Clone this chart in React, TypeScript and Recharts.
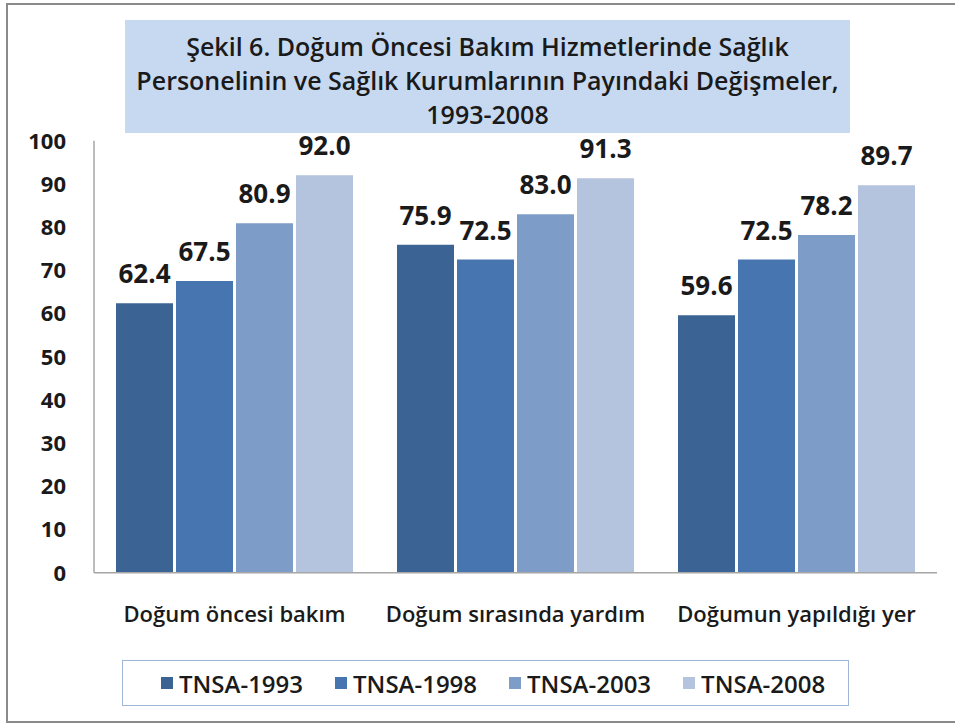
import { BarChart, Bar, XAxis, YAxis, LabelList } from 'recharts';

const categories = ['Doğum öncesi bakım', 'Doğum sırasında yardım', 'Doğumun yapıldığı yer'];
const tnsa1993 = [62.4, 75.9, 59.6];
const tnsa1998 = [67.5, 72.5, 72.5];
const tnsa2003 = [80.9, 83.0, 78.2];
const tnsa2008 = [92.0, 91.3, 89.7];
const seriesNames = ['TNSA-1993', 'TNSA-1998', 'TNSA-2003', 'TNSA-2008'];
const yTicks = [0, 10, 20, 30, 40, 50, 60, 70, 80, 90, 100];
const titleLines = [
  'Şekil 6. Doğum Öncesi Bakım Hizmetlerinde Sağlık',
  'Personelinin ve Sağlık Kurumlarının Payındaki Değişmeler,',
  '1993-2008',
];

const COLORS = ['#3B6494', '#4675AF', '#7E9CC8', '#B4C3DE'];
const FONT = '"Open Sans", sans-serif';
const TEXT = '#1a1a1a';

const data = categories.map((name, i) => ({
  name,
  s0: tnsa1993[i],
  s1: tnsa1998[i],
  s2: tnsa2003[i],
  s3: tnsa2008[i],
}));

export default function App() {
  return (
    <div style={{ position: 'relative', width: 955, height: 724, overflow: 'hidden', background: '#fff', fontFamily: FONT }}>
      <style>{'body{margin:0}'}</style>
      {/* outer frame */}
      <div
        style={{
          position: 'absolute',
          left: 6,
          top: 3,
          width: 960,
          height: 716,
          border: '2px solid #8a8a8a',
        }}
      />

      <BarChart
        width={955}
        height={724}
        data={data}
        margin={{ top: 140.7, right: 18, bottom: 91.3, left: 0 }}
        barSize={57}
        barGap={3}
      >
        <XAxis
          dataKey="name"
          height={60}
          axisLine={{ stroke: '#a6a6a6', strokeWidth: 1.5 }}
          tickLine={false}
          tickSize={0}
          tickMargin={34}
          tick={{ fill: TEXT, fontSize: 22, fontWeight: 600, fontFamily: FONT }}
          interval={0}
        />
        <YAxis
          width={94}
          domain={[0, 100]}
          ticks={yTicks}
          axisLine={{ stroke: '#a6a6a6', strokeWidth: 1.5 }}
          tickLine={false}
          tickSize={0}
          tickMargin={28}
          tick={{ fill: TEXT, fontSize: 22, fontWeight: 700, fontFamily: FONT }}
        />
        {['s0', 's1', 's2', 's3'].map((key, i) => (
          <Bar key={key} dataKey={key} fill={COLORS[i]} isAnimationActive={false}>
            <LabelList
              dataKey={key}
              position="top"
              offset={20}
              formatter={(v: any) => Number(v).toFixed(1)}
              style={{ fill: TEXT, fontSize: 26, fontWeight: 700, fontFamily: FONT }}
            />
          </Bar>
        ))}
      </BarChart>

      {/* title box */}
      <div
        style={{
          position: 'absolute',
          left: 125,
          top: 20,
          width: 725,
          height: 113,
          paddingTop: 6,
          boxSizing: 'border-box',
          background: '#C6D9F1',
          display: 'flex',
          flexDirection: 'column',
          alignItems: 'center',
          justifyContent: 'center',
          color: TEXT,
          fontSize: 25,
          fontWeight: 600,
          lineHeight: '34px',
          whiteSpace: 'nowrap',
        }}
      >
        {titleLines.map((t, i) => (
          <div key={i}>{t}</div>
        ))}
      </div>

      {/* legend */}
      <div
        style={{
          position: 'absolute',
          left: 122,
          top: 660,
          width: 727,
          height: 46,
          border: '1.5px solid #9fb6d8',
          display: 'flex',
          alignItems: 'center',
          paddingLeft: 38,
          boxSizing: 'border-box',
          gap: 32,
        }}
      >
        {seriesNames.map((n, i) => (
          <div key={n} style={{ display: 'flex', alignItems: 'center', gap: 6 }}>
            <div style={{ width: 12, height: 12, background: COLORS[i] }} />
            <span style={{ fontSize: 24, fontWeight: 600, color: TEXT }}>{n}</span>
          </div>
        ))}
      </div>
    </div>
  );
}
